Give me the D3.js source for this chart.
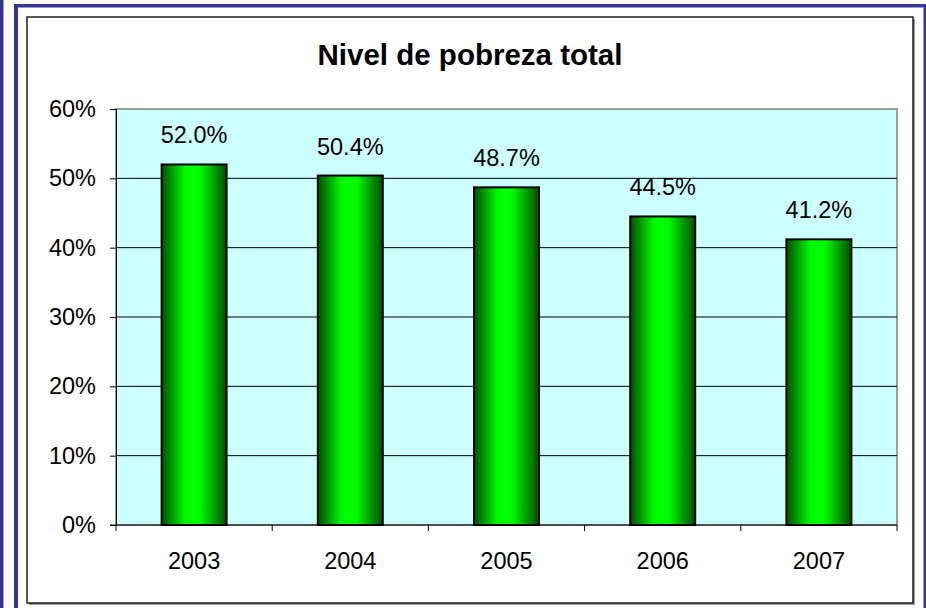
<!DOCTYPE html>
<html><head><meta charset="utf-8">
<script src="https://cdn.jsdelivr.net/npm/d3@7"></script>
<style>html,body{margin:0;padding:0;background:#fff;}svg{display:block;}</style>
</head><body>
<svg id="c" width="926" height="608"></svg>
<script>
const categories = ["2003","2004","2005","2006","2007"];
const values = [52.0, 50.4, 48.7, 44.5, 41.2];
const yTicks = [0,10,20,30,40,50,60];
const title = "Nivel de pobreza total";

const svg = d3.select("#c");
const font = "'Liberation Sans', Arial, sans-serif";
const blue = "#333399";
const fs = 23.5;

// decorative blue borders
svg.append("rect").attr("x",0).attr("y",0).attr("width",3.5).attr("height",608).attr("fill",blue);
svg.append("rect").attr("x",14).attr("y",4).attr("width",4).attr("height",604).attr("fill",blue);
svg.append("rect").attr("x",14).attr("y",4).attr("width",912).attr("height",3.5).attr("fill",blue);
svg.append("rect").attr("x",923.5).attr("y",4).attr("width",2.5).attr("height",604).attr("fill",blue);

// chart frame with shadow
svg.append("rect").attr("x",29).attr("y",19).attr("width",886).attr("height",586).attr("fill","#a0a0a0");
svg.append("rect").attr("x",27).attr("y",17).attr("width",886).attr("height",586)
  .attr("fill","#fff").attr("stroke","#000").attr("stroke-width",1.3);

const L=116, R=897, T=109, B=525;
const x = d3.scaleBand().domain(categories).range([L,R]).paddingInner(0.584).paddingOuter(0.292);
const xb = d3.scaleBand().domain(categories).range([L,R]);
const y = d3.scaleLinear().domain([0,60]).range([B,T]);

// plot area
svg.append("rect").attr("x",L).attr("y",T).attr("width",R-L).attr("height",B-T)
  .attr("fill","#CCFFFF").attr("stroke","#808080").attr("stroke-width",1.5);

// gridlines
svg.append("g").selectAll("line").data(yTicks.filter(d=>d>0 && d<60)).join("line")
  .attr("x1",L).attr("x2",R).attr("y1",d=>y(d)).attr("y2",d=>y(d))
  .attr("stroke","#000").attr("stroke-width",1);

// gradient
const defs = svg.append("defs");
const g = defs.append("linearGradient").attr("id","bg").attr("x1","0%").attr("x2","100%").attr("y1","0%").attr("y2","0%");
[["0%","#005000"],["36%","#00f800"],["50%","#00ff00"],["60%","#00f800"],["100%","#004c00"]].forEach(s=>
  g.append("stop").attr("offset",s[0]).attr("stop-color",s[1]));

// bars
svg.append("g").selectAll("rect").data(values).join("rect")
  .attr("x",(d,i)=>x(categories[i])).attr("width",x.bandwidth())
  .attr("y",d=>y(d)).attr("height",d=>B-y(d))
  .attr("fill","url(#bg)").attr("stroke","#000").attr("stroke-width",2);

// labels
svg.append("g").selectAll("text").data(values).join("text")
  .attr("x",(d,i)=>x(categories[i])+x.bandwidth()/2).attr("y",d=>y(d)-21)
  .attr("text-anchor","middle").attr("font-family",font).attr("font-size",fs)
  .text(d=>d.toFixed(1)+"%");

// y axis
const ya = d3.axisLeft(y).tickValues(yTicks).tickFormat(d=>d+"%").tickSize(6).tickPadding(14);
const yg = svg.append("g").attr("transform",`translate(${L},0)`).call(ya);
yg.select(".domain").attr("stroke","#000").attr("stroke-width",1);
yg.selectAll("line").attr("stroke","#000");
yg.selectAll("text").attr("font-family",font).attr("font-size",fs).attr("fill","#000");

// x axis
const xa = d3.axisBottom(xb).tickSize(0).tickPadding(27);
const xg = svg.append("g").attr("transform",`translate(0,${B})`).call(xa);
xg.select(".domain").remove();
xg.selectAll("text").attr("font-family",font).attr("font-size",fs).attr("fill","#000");
svg.append("line").attr("x1",L-6).attr("x2",R).attr("y1",B).attr("y2",B).attr("stroke","#000");
const bounds = categories.map(c=>xb(c)).concat([xb(categories[categories.length-1])+xb.bandwidth()]);
svg.append("g").selectAll("line").data(bounds).join("line")
  .attr("x1",d=>d).attr("x2",d=>d).attr("y1",B).attr("y2",B+6).attr("stroke","#000");

// title
svg.append("text").attr("x",470).attr("y",65).attr("text-anchor","middle")
  .attr("font-family",font).attr("font-weight","bold").attr("font-size",29.5).text(title);
</script>
</body></html>
